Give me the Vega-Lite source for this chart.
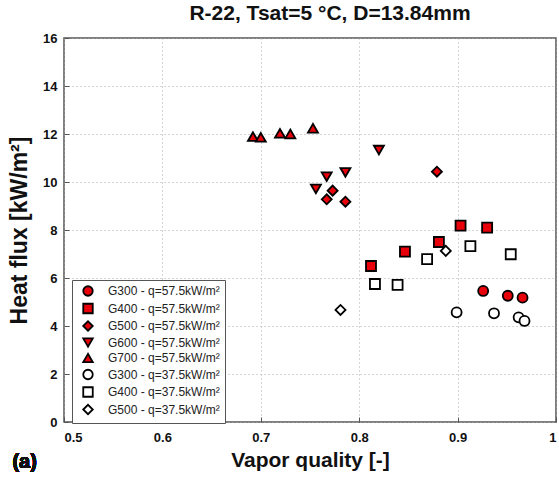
{
  "$schema": "https://vega.github.io/schema/vega-lite/v6.json",
  "width": 492,
  "height": 384,
  "autosize": "none",
  "padding": {"left": 64, "top": 38, "right": 3, "bottom": 56},
  "background": "white",
  "title": {"text": "R-22, Tsat=5 °C, D=13.84mm", "font": "Liberation Sans", "fontSize": 21, "fontWeight": "bold", "color": "#111", "offset": 8, "dx": 20},
  "config": {
    "view": {"stroke": "#555", "strokeWidth": 1.5},
    "axis": {"labelFont": "Liberation Sans", "labelFontSize": 13, "labelFontWeight": "bold", "labelColor": "#111", "titleFont": "Liberation Sans", "titleFontWeight": "bold", "titleColor": "#111", "grid": true, "gridDash": [1, 3], "gridColor": "#aaa", "gridWidth": 1, "domain": false, "tickColor": "#555", "tickSize": -5}
  },
  "data": {"values": [
    {"x": 0.692, "y": 11.89, "s": "G700 - q=57.5kW/m²"},
    {"x": 0.700, "y": 11.86, "s": "G700 - q=57.5kW/m²"},
    {"x": 0.7195, "y": 12.03, "s": "G700 - q=57.5kW/m²"},
    {"x": 0.730, "y": 12.0, "s": "G700 - q=57.5kW/m²"},
    {"x": 0.753, "y": 12.24, "s": "G700 - q=57.5kW/m²"},
    {"x": 0.820, "y": 11.33, "s": "G600 - q=57.5kW/m²"},
    {"x": 0.767, "y": 10.22, "s": "G600 - q=57.5kW/m²"},
    {"x": 0.786, "y": 10.40, "s": "G600 - q=57.5kW/m²"},
    {"x": 0.756, "y": 9.71, "s": "G600 - q=57.5kW/m²"},
    {"x": 0.773, "y": 9.64, "s": "G500 - q=57.5kW/m²"},
    {"x": 0.767, "y": 9.28, "s": "G500 - q=57.5kW/m²"},
    {"x": 0.786, "y": 9.18, "s": "G500 - q=57.5kW/m²"},
    {"x": 0.879, "y": 10.43, "s": "G500 - q=57.5kW/m²"},
    {"x": 0.812, "y": 6.5, "s": "G400 - q=57.5kW/m²"},
    {"x": 0.8465, "y": 7.10, "s": "G400 - q=57.5kW/m²"},
    {"x": 0.881, "y": 7.5, "s": "G400 - q=57.5kW/m²"},
    {"x": 0.903, "y": 8.18, "s": "G400 - q=57.5kW/m²"},
    {"x": 0.930, "y": 8.10, "s": "G400 - q=57.5kW/m²"},
    {"x": 0.926, "y": 5.46, "s": "G300 - q=57.5kW/m²"},
    {"x": 0.951, "y": 5.26, "s": "G300 - q=57.5kW/m²"},
    {"x": 0.966, "y": 5.18, "s": "G300 - q=57.5kW/m²"},
    {"x": 0.816, "y": 5.75, "s": "G400 - q=37.5kW/m²"},
    {"x": 0.839, "y": 5.71, "s": "G400 - q=37.5kW/m²"},
    {"x": 0.869, "y": 6.79, "s": "G400 - q=37.5kW/m²"},
    {"x": 0.913, "y": 7.33, "s": "G400 - q=37.5kW/m²"},
    {"x": 0.954, "y": 6.99, "s": "G400 - q=37.5kW/m²"},
    {"x": 0.888, "y": 7.13, "s": "G500 - q=37.5kW/m²"},
    {"x": 0.781, "y": 4.67, "s": "G500 - q=37.5kW/m²"},
    {"x": 0.899, "y": 4.57, "s": "G300 - q=37.5kW/m²"},
    {"x": 0.937, "y": 4.53, "s": "G300 - q=37.5kW/m²"},
    {"x": 0.962, "y": 4.36, "s": "G300 - q=37.5kW/m²"},
    {"x": 0.968, "y": 4.21, "s": "G300 - q=37.5kW/m²"}
  ]},
  "layer": [
    {
      "mark": {"type": "point", "filled": true, "size": 100, "stroke": "black", "strokeWidth": 1.8, "opacity": 1},
      "encoding": {
        "x": {"field": "x", "type": "quantitative", "scale": {"domain": [0.5, 1], "nice": false, "zero": false}, "axis": {"values": [0.5, 0.6, 0.7, 0.8, 0.9, 1], "labelExpr": "datum.value == 1 ? '1' : format(datum.value, '.1f')", "title": "Vapor quality [-]", "titleFontSize": 21, "titlePadding": 5, "labelPadding": 14}},
        "y": {"field": "y", "type": "quantitative", "scale": {"domain": [0, 16], "nice": false}, "axis": {"values": [0, 2, 4, 6, 8, 10, 12, 14, 16], "title": "Heat flux [kW/m²]", "titleFontSize": 23, "titlePadding": 11, "labelPadding": 12}},
        "shape": {"field": "s", "type": "nominal", "scale": {"domain": ["G300 - q=57.5kW/m²", "G400 - q=57.5kW/m²", "G500 - q=57.5kW/m²", "G600 - q=57.5kW/m²", "G700 - q=57.5kW/m²", "G300 - q=37.5kW/m²", "G400 - q=37.5kW/m²", "G500 - q=37.5kW/m²"], "range": ["circle", "square", "diamond", "triangle-down", "triangle-up", "circle", "square", "diamond"]}, "legend": {"title": null}},
        "fill": {"field": "s", "type": "nominal", "scale": {"domain": ["G300 - q=57.5kW/m²", "G400 - q=57.5kW/m²", "G500 - q=57.5kW/m²", "G600 - q=57.5kW/m²", "G700 - q=57.5kW/m²", "G300 - q=37.5kW/m²", "G400 - q=37.5kW/m²", "G500 - q=37.5kW/m²"], "range": ["#e8000b", "#e8000b", "#e8000b", "#e8000b", "#e8000b", "white", "white", "white"]}, "legend": {"title": null, "orient": "none", "legendX": 8, "legendY": 242, "padding": 5, "strokeColor": "#555", "fillColor": "white", "labelFont": "Liberation Sans", "labelFontSize": 12, "labelColor": "#222", "symbolSize": 90, "symbolStrokeColor": "black", "symbolStrokeWidth": 1.8, "rowPadding": -0.5, "labelOffset": 14, "symbolOffset": 5, "cornerRadius": 0}}
      }
    },
    {
      "mark": {"type": "text", "text": "(a)", "font": "Liberation Sans", "fontSize": 20, "fontWeight": "bold", "color": "#111", "clip": false, "align": "center", "baseline": "middle"},
      "encoding": {
        "x": {"datum": 0.46, "type": "quantitative"},
        "y": {"datum": -1.67, "type": "quantitative"}
      }
    }
  ]
}
